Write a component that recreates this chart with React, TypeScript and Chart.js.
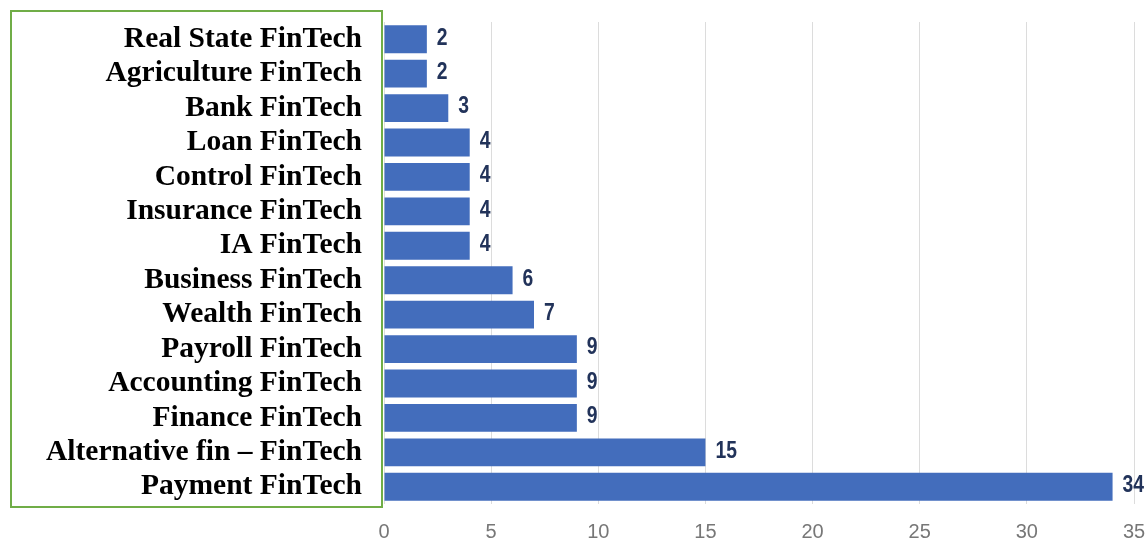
import React, { useEffect, useRef } from "react";
import { Chart, registerables } from "chart.js";

Chart.register(...registerables);

const categories = [
  "Real State FinTech",
  "Agriculture FinTech",
  "Bank FinTech",
  "Loan FinTech",
  "Control FinTech",
  "Insurance FinTech",
  "IA FinTech",
  "Business FinTech",
  "Wealth FinTech",
  "Payroll FinTech",
  "Accounting FinTech",
  "Finance FinTech",
  "Alternative fin \u2013 FinTech",
  "Payment FinTech",
];
const counts = [2, 2, 3, 4, 4, 4, 4, 6, 7, 9, 9, 9, 15, 34];
const xTicks = [0, 5, 10, 15, 20, 25, 30, 35];

const SANS = "'Liberation Sans', Arial, sans-serif";

const valueLabels = {
  id: "valueLabels",
  afterDatasetsDraw(chart: any) {
    const ctx = chart.ctx;
    const meta = chart.getDatasetMeta(0);
    ctx.save();
    ctx.fillStyle = "#22335a";
    ctx.font = `bold 23px ${SANS}`;
    ctx.textAlign = "left";
    ctx.textBaseline = "middle";
    meta.data.forEach((bar: any, i: number) => {
      ctx.save();
      ctx.translate(bar.x + 10, bar.y - 1);
      ctx.scale(0.84, 1);
      ctx.fillText(String(counts[i]), 0, 0);
      ctx.restore();
    });
    ctx.restore();
  },
};

const labelBox = {
  id: "labelBox",
  afterDraw(chart: any) {
    const ctx = chart.ctx;
    ctx.save();
    ctx.strokeStyle = "#70ad47";
    ctx.lineWidth = 2;
    ctx.strokeRect(11, 11, 371, 496);
    ctx.restore();
  },
};

export default function App() {
  const ref = useRef<HTMLCanvasElement>(null);
  useEffect(() => {
    if (!ref.current) return;
    const chart = new Chart(ref.current, {
      type: "bar",
      data: {
        labels: categories,
        datasets: [
          {
            data: counts,
            backgroundColor: "#436dbc",
            borderWidth: 0,
            barPercentage: 0.81,
            categoryPercentage: 1,
          },
        ],
      },
      options: {
        indexAxis: "y",
        responsive: false,
        animation: false,
        layout: { padding: { top: 22, right: 14, left: 0, bottom: 0 } },
        plugins: { legend: { display: false }, tooltip: { enabled: false } },
        scales: {
          x: {
            min: 0,
            max: 35,
            afterBuildTicks(scale: any) {
              scale.ticks = xTicks.map((v) => ({ value: v }));
            },
            afterFit(scale: any) {
              scale.height = 39;
              scale.paddingLeft = 0;
              scale.paddingRight = 0;
            },
            grid: { color: "#dcdcdc", lineWidth: 1, drawTicks: false },
            border: { display: false },
            ticks: {
              color: "#777777",
              padding: 16,
              font: { family: SANS, size: 20 },
            },
          },
          y: {
            afterFit(scale: any) {
              scale.width = 384;
              scale.paddingTop = 0;
              scale.paddingBottom = 0;
            },
            grid: { display: false },
            border: { display: false },
            ticks: {
              autoSkip: false,
              color: "#000000",
              padding: 14,
              font: { family: "'Liberation Serif', 'Times New Roman', serif", size: 29.5, weight: "bold" },
            },
          },
        },
      },
      plugins: [valueLabels, labelBox],
    });
    return () => chart.destroy();
  }, []);
  return (
    <div style={{ position: "absolute", left: 0, top: 0, width: 1148, height: 543, background: "#fff" }}>
      <canvas ref={ref} width={1148} height={543} style={{ display: "block" }} />
    </div>
  );
}
